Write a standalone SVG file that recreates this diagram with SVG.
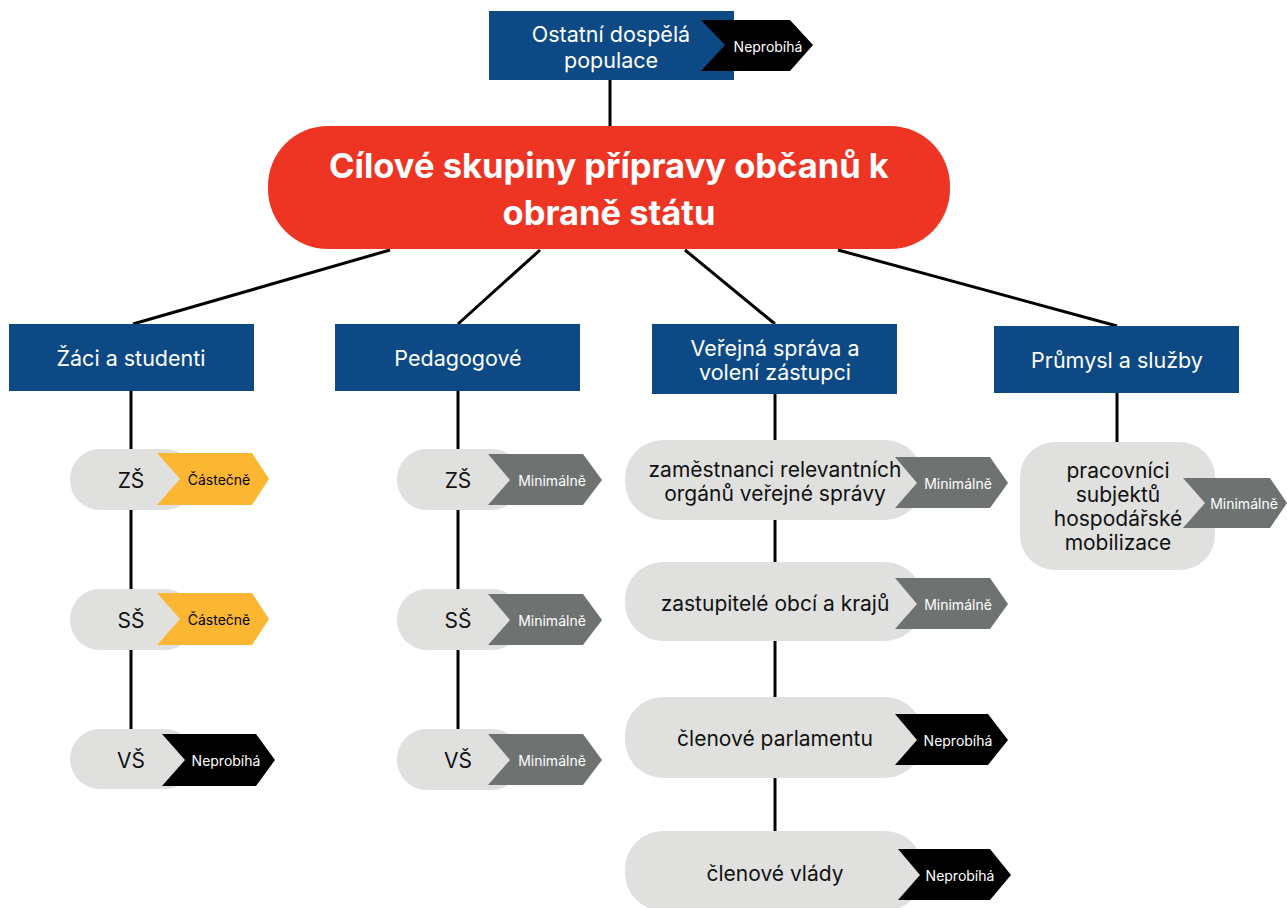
<svg xmlns="http://www.w3.org/2000/svg" width="1287" height="908" viewBox="0 0 1287 908">
<style>
.bg{fill:#ffffff}
.blue{fill:#0d4a85}
.pill{fill:#e0e1df}
.t{font-family:Inter,"Liberation Sans",sans-serif;text-anchor:middle;dominant-baseline:central}
.wt{fill:#ffffff;font-size:21.5px}
.bt{fill:#111111;font-size:21px}
.ct{font-size:14px}
.min{fill:#6e7372}
.cas{fill:#fbb731}
.nep{fill:#000000}
.conn line{stroke:#000;stroke-width:3}
</style>
<rect class="bg" x="0" y="0" width="1287" height="908"/>
<g class="conn">
<line x1="610" y1="80" x2="610" y2="127"/>
<line x1="390" y1="250" x2="133" y2="324"/>
<line x1="540" y1="250" x2="458" y2="324"/>
<line x1="685" y1="250" x2="775" y2="324"/>
<line x1="838" y1="250" x2="1117" y2="326"/>
<line x1="131" y1="391" x2="131" y2="450"/>
<line x1="131" y1="510" x2="131" y2="590"/>
<line x1="131" y1="650" x2="131" y2="730"/>
<line x1="458" y1="391" x2="458" y2="450"/>
<line x1="458" y1="510" x2="458" y2="590"/>
<line x1="458" y1="650" x2="458" y2="730"/>
<line x1="775" y1="394" x2="775" y2="440"/>
<line x1="775" y1="520" x2="775" y2="562"/>
<line x1="775" y1="641" x2="775" y2="697"/>
<line x1="775" y1="778" x2="775" y2="831"/>
<line x1="1117" y1="393" x2="1117" y2="442"/>
</g>
<g id="n-ostatni">
<rect class="blue" x="489" y="11" width="245" height="69"/>
<text class="t wt" x="611" y="34" font-size="22">Ostatní dospělá</text>
<text class="t wt" x="611" y="60" font-size="22">populace</text>
<polygon class="nep" points="701,20 790,20 813,45 790,71 701,71 725,45"/>
<text class="t ct" x="768" y="46" fill="#fff">Neprobíhá</text>
</g>
<g id="n-root">
<rect x="268" y="126" width="682" height="123" rx="60" fill="#ee3524"/>
<text class="t" x="609" y="165" fill="#fff" font-size="34.5" font-weight="bold">Cílové skupiny přípravy občanů k</text>
<text class="t" x="609" y="212" fill="#fff" font-size="34.5" font-weight="bold">obraně státu</text>
</g>
<g id="n-zaci">
<rect class="blue" x="9" y="324" width="245" height="67"/>
<text class="t wt" x="131" y="358">Žáci a studenti</text>
</g>
<g id="n-pedagogove">
<rect class="blue" x="335" y="324" width="245" height="67"/>
<text class="t wt" x="458" y="358">Pedagogové</text>
</g>
<g id="n-verejna">
<rect class="blue" x="652" y="324" width="245" height="70"/>
<text class="t wt" x="775" y="348">Veřejná správa a</text>
<text class="t wt" x="775" y="372">volení zástupci</text>
</g>
<g id="n-prumysl">
<rect class="blue" x="994" y="326" width="245" height="67"/>
<text class="t wt" x="1117" y="360">Průmysl a služby</text>
</g>
<g id="n-zaci-zs">
<rect class="pill" x="70" y="449" width="125" height="61" rx="30"/>
<text class="t bt" x="131" y="480">ZŠ</text>
<polygon class="cas" points="157,453 252,453 269,479 252,505 157,505 180,479"/>
<text class="t ct" x="219" y="479" fill="#000">Částečně</text>
</g>
<g id="n-zaci-ss">
<rect class="pill" x="70" y="589" width="125" height="61" rx="30"/>
<text class="t bt" x="131" y="620">SŠ</text>
<polygon class="cas" points="157,593 252,593 269,619 252,645 157,645 180,619"/>
<text class="t ct" x="219" y="619" fill="#000">Částečně</text>
</g>
<g id="n-zaci-vs">
<rect class="pill" x="70" y="729" width="125" height="60" rx="30"/>
<text class="t bt" x="131" y="760">VŠ</text>
<polygon class="nep" points="162,734 256,734 275,760 256,786 162,786 185,760"/>
<text class="t ct" x="226" y="760" fill="#fff">Neprobíhá</text>
</g>
<g id="n-ped-zs">
<rect class="pill" x="397" y="449" width="125" height="61" rx="30"/>
<text class="t bt" x="458" y="480">ZŠ</text>
<polygon class="min" points="488,454 583,454 602,480 583,505 488,505 510,480"/>
<text class="t ct" x="552" y="480" fill="#fff">Minimálně</text>
</g>
<g id="n-ped-ss">
<rect class="pill" x="397" y="589" width="125" height="61" rx="30"/>
<text class="t bt" x="458" y="620">SŠ</text>
<polygon class="min" points="488,594 583,594 602,620 583,645 488,645 510,620"/>
<text class="t ct" x="552" y="620" fill="#fff">Minimálně</text>
</g>
<g id="n-ped-vs">
<rect class="pill" x="397" y="729" width="125" height="61" rx="30"/>
<text class="t bt" x="458" y="760">VŠ</text>
<polygon class="min" points="488,734 583,734 602,760 583,785 488,785 510,760"/>
<text class="t ct" x="552" y="760" fill="#fff">Minimálně</text>
</g>
<g id="n-zamestnanci">
<rect class="pill" x="625" y="440" width="298" height="80" rx="38"/>
<text class="t bt" x="775" y="469">zaměstnanci relevantních</text>
<text class="t bt" x="775" y="493">orgánů veřejné správy</text>
<polygon class="min" points="895,457 990,457 1008,483 990,508 895,508 917,483"/>
<text class="t ct" x="958" y="483" fill="#fff">Minimálně</text>
</g>
<g id="n-zastupitele">
<rect class="pill" x="625" y="562" width="298" height="79" rx="38"/>
<text class="t bt" x="775" y="603">zastupitelé obcí a krajů</text>
<polygon class="min" points="895,578 990,578 1008,604 990,629 895,629 917,604"/>
<text class="t ct" x="958" y="604" fill="#fff">Minimálně</text>
</g>
<g id="n-parlament">
<rect class="pill" x="625" y="697" width="298" height="81" rx="38"/>
<text class="t bt" x="775" y="738">členové parlamentu</text>
<polygon class="nep" points="895,714 988,714 1008,740 988,765 895,765 917,740"/>
<text class="t ct" x="958" y="740" fill="#fff">Neprobíhá</text>
</g>
<g id="n-vlada">
<rect class="pill" x="625" y="831" width="298" height="80" rx="38"/>
<text class="t bt" x="775" y="873">členové vlády</text>
<polygon class="nep" points="898,849 990,849 1011,875 990,900 898,900 920,875"/>
<text class="t ct" x="960" y="875" fill="#fff">Neprobíhá</text>
</g>
<g id="n-pracovnici">
<rect class="pill" x="1020" y="442" width="195" height="128" rx="35"/>
<text class="t bt" x="1118" y="470">pracovníci</text>
<text class="t bt" x="1118" y="494">subjektů</text>
<text class="t bt" x="1118" y="518">hospodářské</text>
<text class="t bt" x="1118" y="542">mobilizace</text>
<polygon class="min" points="1183,478 1270,478 1287,503 1270,528 1183,528 1205,503"/>
<text class="t ct" x="1244" y="503" fill="#fff">Minimálně</text>
</g>
</svg>
